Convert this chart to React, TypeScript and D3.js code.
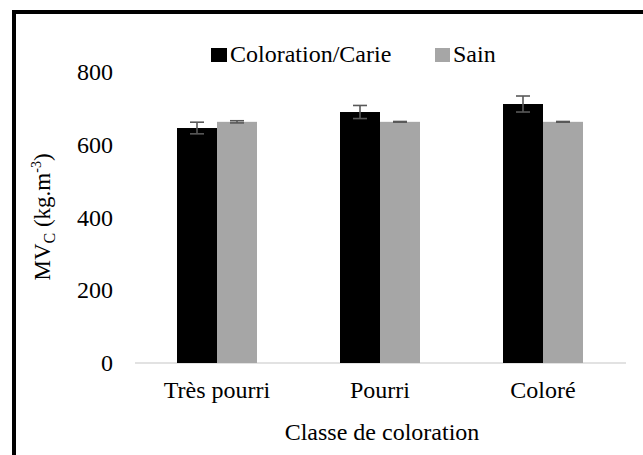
import React from "react";
import * as d3 from "d3";

const categories = ["Très pourri", "Pourri", "Coloré"];
const seriesNames = ["Coloration/Carie", "Sain"];
const seriesColors = ["#000000", "#a6a6a6"];
const colorationValues = [646, 690, 712];
const colorationErrors = [16, 18, 22];
const sainValues = [663, 663, 663];
const sainErrors = [3, 1, 1];
const yTicks = [0, 200, 400, 600, 800];

const W = 643;
const H = 455;

export default function App() {
  const x = d3.scaleBand<string>().domain(categories).range([135.5, 624.5]).padding(0);
  const bw = x.bandwidth();
  const x1 = d3.scaleBand<string>().domain(seriesNames).range([bw / 2 - 40, bw / 2 + 40]).padding(0);
  const y = d3.scaleLinear().domain([0, 800]).range([363, 72]);
  const values = [colorationValues, sainValues];
  const errors = [colorationErrors, sainErrors];
  const font = '"Liberation Serif", "DejaVu Serif", "Times New Roman", serif';

  return (
    <div style={{ position: "absolute", left: 0, top: 0 }}>
      <style>{`svg text { font-family: ${font}; }`}</style>
      <svg width={W} height={H} style={{ display: "block", background: "#fff", fontFamily: font }}>
        <rect x={0} y={0} width={W} height={H} fill="#fff" />
        <line x1={14} x2={W + 5} y1={12} y2={12} stroke="#000" strokeWidth={4} />
        <line x1={14} x2={14} y1={10} y2={H + 5} stroke="#000" strokeWidth={4} />
        <line x1={135} x2={626} y1={y(0)} y2={y(0)} stroke="#d9d9d9" strokeWidth={1.5} />
        {yTicks.map((t) => (
          <text key={t} x={113} y={y(t)} textAnchor="end" dominantBaseline="central" fontSize={24} fill="#000">
            {t}
          </text>
        ))}
        {categories.map((c, i) => (
          <g key={c} transform={`translate(${x(c)},0)`}>
            {seriesNames.map((s, j) => {
              const v = values[j][i];
              const e = errors[j][i];
              const bx = x1(s)!;
              const cx = bx + x1.bandwidth() / 2;
              return (
                <g key={s}>
                  <rect x={bx} y={y(v)} width={x1.bandwidth()} height={y(0) - y(v)} fill={seriesColors[j]} />
                  <g stroke="#595959" strokeWidth={1.6}>
                    <line x1={cx} x2={cx} y1={y(v + e)} y2={y(v - e)} />
                    <line x1={cx - 7} x2={cx + 7} y1={y(v + e)} y2={y(v + e)} />
                    <line x1={cx - 7} x2={cx + 7} y1={y(v - e)} y2={y(v - e)} />
                  </g>
                </g>
              );
            })}
            <text x={bw / 2} y={398} textAnchor="middle" fontSize={24} fill="#000">
              {c}
            </text>
          </g>
        ))}
        <text x={382} y={440} textAnchor="middle" fontSize={24} fill="#000">
          Classe de coloration
        </text>
        <text transform="translate(50,217) rotate(-90)" textAnchor="middle" fontSize={23} fill="#000">
          MV<tspan fontSize={16} dy={5}>C</tspan>
          <tspan dy={-5}> (kg.m</tspan>
          <tspan fontSize={14} dy={-9}>-3</tspan>
          <tspan dy={9}>)</tspan>
        </text>
        <rect x={211} y={48} width={16} height={14} fill={seriesColors[0]} />
        <text x={230} y={62} fontSize={24} fill="#000">{seriesNames[0]}</text>
        <rect x={435} y={48} width={15} height={14} fill={seriesColors[1]} />
        <text x={453} y={62} fontSize={24} fill="#000">{seriesNames[1]}</text>
      </svg>
    </div>
  );
}
